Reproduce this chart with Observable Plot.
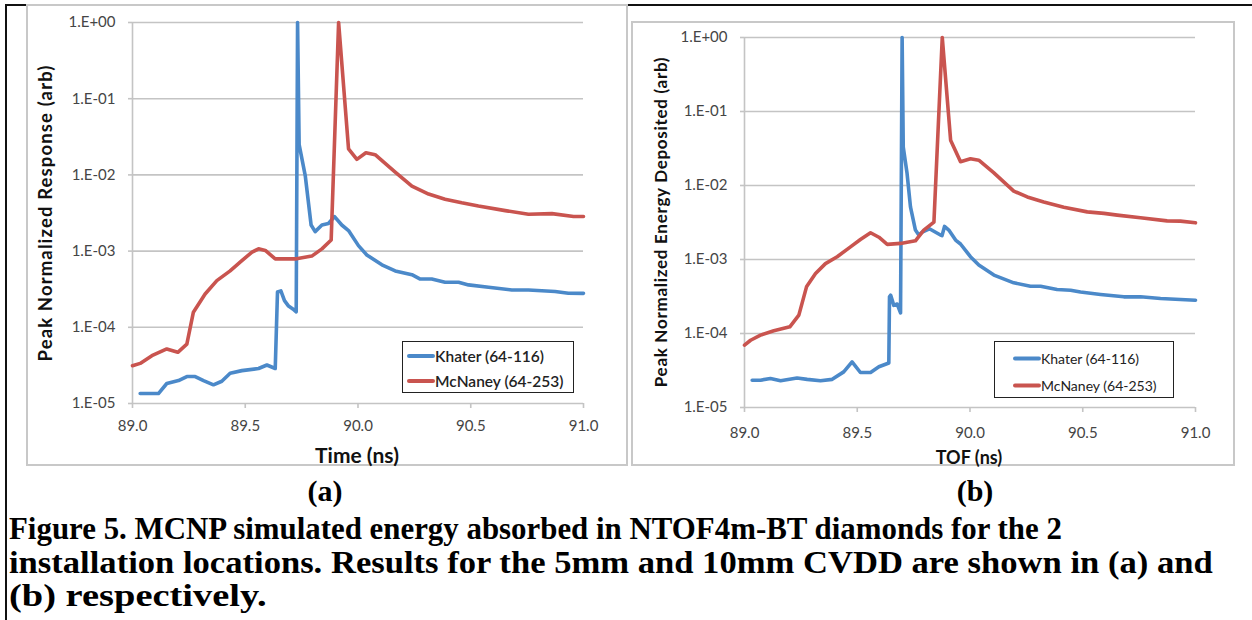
<!DOCTYPE html>
<html><head><meta charset="utf-8">
<script src="https://cdn.jsdelivr.net/npm/d3@7"></script>
<script src="https://cdn.jsdelivr.net/npm/@observablehq/plot@0.6"></script>
<style>
body{margin:0;width:1252px;height:620px;position:relative;background:#fff;overflow:hidden;font-family:Lato,sans-serif}
.abs{position:absolute}
.ytitle{position:absolute;transform:translate(-50%,-50%) rotate(-90deg);white-space:nowrap;font-weight:bold;color:#111}
.xtitle{position:absolute;transform:translate(-50%,-50%);white-space:nowrap;font-weight:bold;color:#111}
.legend{position:absolute;border:1.5px solid #222;background:#fff;box-sizing:border-box}
.lrow{position:absolute;white-space:nowrap;display:flex;align-items:center}
.lsw{display:inline-block;width:28px;height:4px;border-radius:2px}
.cap{position:absolute;font-family:"Liberation Serif",serif;font-weight:bold;color:#000;white-space:nowrap}
</style></head><body>
<script>
// ---------- data ----------
const seriesNames = ["Khater (64-116)", "McNaney (64-253)"];
const seriesColors = ["#4b89c9", "#c9544f"];
const xTicks = [89.0, 89.5, 90.0, 90.5, 91.0];
const yTicks = [1e-5, 1e-4, 1e-3, 1e-2, 1e-1, 1];
const yTickLabels = ["1.E-05", "1.E-04", "1.E-03", "1.E-02", "1.E-01", "1.E+00"];

// (a) 5mm CVDD : Time (ns) vs Peak Normalized Response
const timeKhaterA = [89.034,89.115,89.152,89.204,89.241,89.278,89.315,89.359,89.396,89.433,89.485,89.559,89.596,89.633,89.643,89.658,89.674,89.692,89.711,89.726,89.732,89.739,89.766,89.792,89.81,89.84,89.869,89.896,89.928,89.958,90.002,90.039,90.106,90.165,90.239,90.276,90.327,90.386,90.446,90.49,90.579,90.682,90.756,90.874,90.933,91.0];
const respKhaterA = [1.35e-5,1.35e-5,1.83e-5,2.0e-5,2.26e-5,2.26e-5,2.0e-5,1.76e-5,1.96e-5,2.5e-5,2.7e-5,2.88e-5,3.2e-5,2.88e-5,2.9e-4,3.0e-4,2.24e-4,1.9e-4,1.74e-4,1.6e-4,1.0,2.5e-2,9.8e-3,2.2e-3,1.8e-3,2.2e-3,2.3e-3,2.84e-3,2.2e-3,1.86e-3,1.18e-3,8.9e-4,6.6e-4,5.5e-4,4.9e-4,4.3e-4,4.3e-4,3.9e-4,3.9e-4,3.6e-4,3.35e-4,3.09e-4,3.09e-4,2.95e-4,2.8e-4,2.79e-4];
const timeMcNaneyA = [89.0,89.034,89.086,89.152,89.201,89.241,89.27,89.322,89.374,89.433,89.485,89.53,89.559,89.589,89.633,89.721,89.795,89.84,89.881,89.914,89.958,89.995,90.035,90.076,90.165,90.239,90.313,90.386,90.46,90.534,90.653,90.756,90.86,90.956,91.0];
const respMcNaneyA = [3.13e-5,3.36e-5,4.24e-5,5.2e-5,4.7e-5,6.0e-5,1.58e-4,2.74e-4,4.1e-4,5.5e-4,7.5e-4,9.7e-4,1.07e-3,1.02e-3,7.9e-4,7.9e-4,8.6e-4,1.07e-3,1.4e-3,1.0,2.2e-2,1.6e-2,1.95e-2,1.84e-2,1.09e-2,7.1e-3,5.6e-3,4.8e-3,4.3e-3,3.9e-3,3.4e-3,3.05e-3,3.1e-3,2.84e-3,2.84e-3];

// (b) 10mm CVDD : TOF (ns) vs Peak Normalized Energy Deposited
const timeKhaterB = [89.034,89.071,89.115,89.16,89.233,89.278,89.337,89.389,89.44,89.477,89.514,89.559,89.596,89.64,89.643,89.648,89.662,89.677,89.692,89.699,89.704,89.721,89.736,89.758,89.773,89.788,89.82,89.869,89.876,89.887,89.906,89.936,89.958,90.002,90.039,90.106,90.194,90.268,90.313,90.386,90.446,90.49,90.579,90.682,90.756,90.845,90.933,91.0];
const respKhaterB = [2.34e-5,2.34e-5,2.47e-5,2.3e-5,2.5e-5,2.4e-5,2.3e-5,2.4e-5,3.03e-5,4.14e-5,2.97e-5,2.97e-5,3.55e-5,4.0e-5,3.13e-4,3.3e-4,2.4e-4,2.5e-4,1.9e-4,1.0,3.3e-2,1.45e-2,5.15e-3,2.5e-3,2.14e-3,2.35e-3,2.6e-3,2.14e-3,2.1e-3,2.8e-3,2.5e-3,1.83e-3,1.62e-3,1.09e-3,8.4e-4,6.15e-4,4.84e-4,4.36e-4,4.36e-4,3.93e-4,3.85e-4,3.63e-4,3.37e-4,3.13e-4,3.13e-4,2.97e-4,2.88e-4,2.82e-4];
const timeMcNaneyB = [89.0,89.027,89.071,89.13,89.201,89.241,89.275,89.315,89.359,89.411,89.47,89.514,89.559,89.596,89.633,89.692,89.758,89.795,89.84,89.877,89.914,89.958,90.002,90.039,90.106,90.194,90.254,90.327,90.416,90.52,90.594,90.653,90.756,90.874,90.933,91.0];
const respMcNaneyB = [6.95e-5,8.1e-5,9.5e-5,1.09e-4,1.23e-4,1.77e-4,4.27e-4,6.45e-4,8.8e-4,1.09e-3,1.48e-3,1.86e-3,2.3e-3,2.0e-3,1.6e-3,1.65e-3,1.79e-3,2.5e-3,3.2e-3,1.0,4.1e-2,2.1e-2,2.3e-2,2.2e-2,1.48e-2,8.4e-3,7.0e-3,6.0e-3,5.1e-3,4.4e-3,4.2e-3,3.98e-3,3.66e-3,3.33e-3,3.3e-3,3.13e-3];

// ---------- helpers ----------
function el(tag, cls, style, text) {
  const e = document.createElement(tag);
  if (cls) e.className = cls;
  Object.assign(e.style, style || {});
  if (text != null) e.textContent = text;
  document.body.appendChild(e);
  return e;
}
function fitSpacing(e, target) {
  const w = e.offsetWidth;
  e.style.letterSpacing = ((target - w) / e.textContent.length).toFixed(3) + "px";
}
function rowsOf(t1, v1, t2, v2) {
  return [
    ...t1.map((t, i) => ({t, v: v1[i], s: seriesNames[0]})),
    ...t2.map((t, i) => ({t, v: v2[i], s: seriesNames[1]}))
  ];
}
function panel(rows, o) {
  const grid = "#c4c4c4";
  return Plot.plot({
    width: o.width, height: o.height,
    marginLeft: o.ml, marginRight: o.mr, marginTop: o.mt, marginBottom: o.mb,
    style: {fontFamily: "Lato, sans-serif", fontSize: "15px", color: "#595959", background: "transparent", overflow: "visible"},
    x: {domain: [89, 91]},
    y: {type: "log", domain: [1e-5, 1]},
    color: {domain: seriesNames, range: seriesColors},
    marks: [
      Plot.ruleY(yTicks, {stroke: grid, strokeWidth: 1.6}),
      Plot.ruleX([89], {stroke: grid, strokeWidth: 1.6}),
      Plot.axisY({ticks: yTicks, tickSize: 4, tickPadding: 13, stroke: grid, strokeWidth: 1.6, fill: "#454545",
        tickFormat: d => yTickLabels[yTicks.findIndex(v => Math.abs(Math.log10(v) - Math.log10(d)) < 1e-6)], label: null}),
      Plot.axisX({ticks: xTicks, tickSize: 5, tickPadding: o.xpad, stroke: grid, strokeWidth: 1.6, fill: "#454545",
        tickFormat: d => d.toFixed(1), label: null}),
      Plot.line(rows, {x: "t", y: "v", stroke: "s", strokeWidth: 3.6, strokeLinejoin: "round", strokeLinecap: "round"})
    ]
  });
}

// ---------- page frames ----------
el("div", "abs", {left: "5px", top: "4px", width: "2px", height: "616px", background: "#111"});
el("div", "abs", {left: "5px", top: "4px", width: "1247px", height: "2px", background: "#111"});
el("div", "abs", {left: "26px", top: "4px", width: "602px", height: "462px", border: "2px solid #c8c8c8", background: "#fff", boxSizing: "border-box"});
el("div", "abs", {left: "631px", top: "21px", width: "604px", height: "445px", border: "2px solid #c8c8c8", background: "#fff", boxSizing: "border-box"});

// ---------- panel (a) ----------
const svgA = panel(rowsOf(timeKhaterA, respKhaterA, timeMcNaneyA, respMcNaneyA),
  {width: 601, height: 460, ml: 105, mr: 45, mt: 17, mb: 62, xpad: 12});
Object.assign(svgA.style, {position: "absolute", left: "27px", top: "5px"});
document.body.appendChild(svgA);

// ---------- panel (b) ----------
const svgB = panel(rowsOf(timeKhaterB, respKhaterB, timeMcNaneyB, respMcNaneyB),
  {width: 602, height: 443, ml: 112, mr: 39, mt: 15, mb: 58, xpad: 15});
Object.assign(svgB.style, {position: "absolute", left: "632px", top: "22px"});
document.body.appendChild(svgB);

// ---------- axis titles ----------
fitSpacing(el("div", "ytitle", {left: "45px", top: "213px", fontSize: "18.5px"}, "Peak Normalized Response (arb)"), 297);
el("div", "xtitle", {left: "357px", top: "454px", fontSize: "21px"}, "Time (ns)");
fitSpacing(el("div", "ytitle", {left: "660px", top: "222px", fontSize: "17px"}, "Peak Normalized Energy Deposited (arb)"), 330);
el("div", "xtitle", {left: "969px", top: "457px", fontSize: "18px"}, "TOF (ns)");

// ---------- legends ----------
function legend(box, rowsY, swX, font, weight) {
  const lg = el("div", "legend", {left: box[0] + "px", top: box[1] + "px", width: box[2] + "px", height: box[3] + "px"});
  seriesNames.forEach((n, i) => {
    const r = document.createElement("div");
    r.className = "lrow";
    Object.assign(r.style, {left: swX + "px", top: rowsY[i] + "px", transform: "translateY(-50%)", fontSize: font, fontWeight: weight, color: "#222"});
    const sw = document.createElement("span");
    sw.className = "lsw"; sw.style.background = seriesColors[i];
    const tx = document.createElement("span");
    tx.textContent = n;
    r.appendChild(sw); r.appendChild(tx);
    lg.appendChild(r);
  });
}
legend([402, 341, 172, 52], [14, 39], 4, "15.5px", "600");
legend([994, 341, 180, 57], [16, 43], 18, "14px", "400");

// ---------- captions ----------
el("div", "cap", {left: "325px", top: "491px", transform: "translate(-50%,-50%)", fontSize: "30px"}, "(a)");
el("div", "cap", {left: "975px", top: "491px", transform: "translate(-50%,-50%)", fontSize: "30px"}, "(b)");
const capLines = [
  "Figure 5. MCNP simulated energy absorbed in NTOF4m-BT diamonds for the 2",
  "installation locations. Results for the 5mm and 10mm CVDD are shown in (a) and",
  "(b) respectively."
];
const capWidths = [1053, 1204, 258];
capLines.forEach((s, i) => {
  const c = el("div", "cap", {left: "9px", top: (512 + i * 33.5) + "px", fontSize: "31px", lineHeight: "34px", transformOrigin: "0 50%"}, s);
  c.style.transform = "scaleX(" + (capWidths[i] / c.offsetWidth).toFixed(4) + ")";
});
</script>
</body></html>
